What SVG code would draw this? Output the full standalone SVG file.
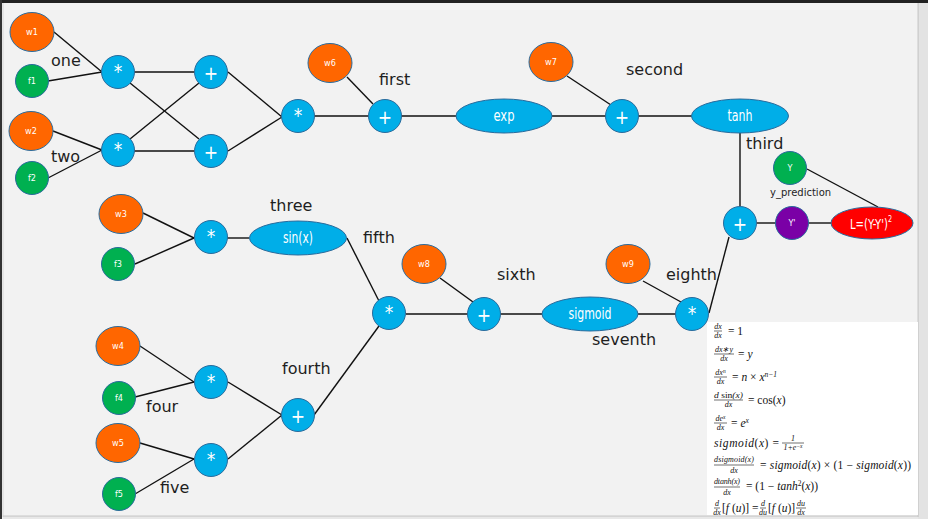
<svg xmlns="http://www.w3.org/2000/svg" width="928" height="519" viewBox="0 0 928 519">
<style>
.o{fill:#ff6600}.g{fill:#00b050}.b{fill:#00aee8}.p{fill:#7a00a6}.r{fill:#ff0000}
.n circle,.n ellipse{stroke:#2a6b9c;stroke-width:1}
.t{font-family:"Liberation Sans Narrow","DejaVu Sans Condensed","Liberation Sans",sans-serif;font-stretch:condensed;fill:#fff;text-anchor:middle;dominant-baseline:central}
.s{font-size:9px}.op{font-size:19px;font-family:"DejaVu Sans",sans-serif}.m{font-size:15px}
.lbl{font-family:"DejaVu Sans",sans-serif;font-size:16px;fill:#1e1e1e}
.sm{font-size:10px}
#edges line{stroke:#111;stroke-width:1.4}
.f{font-family:"Liberation Serif",serif;font-size:11.5px;fill:#111}
.fr{font-family:"Liberation Serif",serif;font-size:8px;font-style:italic;fill:#111;text-anchor:middle}
.i{font-style:italic}
.bar{stroke:#111;stroke-width:0.6}
</style>
<rect width="928" height="519" fill="#f2f2f2"/>
<rect x="0" y="0" width="928" height="3" fill="#222"/>
<rect x="0" y="0" width="2" height="519" fill="#333"/>
<rect x="2.5" y="3" width="1" height="514" fill="#d6d6d6"/>
<rect x="918" y="3" width="10" height="516" fill="#e3e3e3"/>
<rect x="917.5" y="3" width="1.2" height="514" fill="#c8c8c8"/>
<rect x="3" y="515.5" width="915" height="1.2" fill="#c8c8c8"/>
<rect x="3" y="517" width="915" height="2" fill="#e8e8e8"/>
<rect x="707" y="322" width="211" height="193" fill="#ffffff"/>

<g id="edges">
<line x1="54" y1="32" x2="102" y2="72"/>
<line x1="48" y1="81" x2="102" y2="72"/>
<line x1="53" y1="131" x2="102" y2="150"/>
<line x1="48" y1="178" x2="102" y2="150"/>
<line x1="134" y1="72" x2="194" y2="72"/>
<line x1="134" y1="151" x2="194" y2="151"/>
<line x1="130" y1="83" x2="199" y2="139"/>
<line x1="130" y1="139" x2="199" y2="83"/>
<line x1="228" y1="72" x2="282" y2="117"/>
<line x1="228" y1="151" x2="282" y2="117"/>
<line x1="314" y1="116" x2="368" y2="116"/>
<line x1="347" y1="77" x2="373" y2="104"/>
<line x1="401" y1="116" x2="456" y2="116"/>
<line x1="552" y1="116" x2="606" y2="116"/>
<line x1="567" y1="76" x2="611" y2="105"/>
<line x1="638" y1="116" x2="692" y2="116"/>
<line x1="740" y1="133" x2="740" y2="206"/>
<line x1="757" y1="223" x2="776" y2="223"/>
<line x1="808" y1="223" x2="831" y2="223"/>
<line x1="807" y1="169" x2="878" y2="207"/>
<line x1="709" y1="313" x2="729" y2="237"/>
<line x1="143" y1="213" x2="194" y2="238"/>
<line x1="135" y1="264" x2="194" y2="238"/>
<line x1="227" y1="238" x2="249" y2="238"/>
<line x1="347" y1="238" x2="379" y2="301"/>
<line x1="406" y1="314" x2="468" y2="314"/>
<line x1="440" y1="278" x2="473" y2="302"/>
<line x1="500" y1="314" x2="542" y2="314"/>
<line x1="638" y1="314" x2="676" y2="314"/>
<line x1="643" y1="281" x2="681" y2="302"/>
<line x1="140" y1="346" x2="194" y2="382"/>
<line x1="135" y1="397" x2="194" y2="382"/>
<line x1="140" y1="443" x2="194" y2="459"/>
<line x1="135" y1="494" x2="194" y2="459"/>
<line x1="228" y1="382" x2="282" y2="415"/>
<line x1="228" y1="459" x2="282" y2="415"/>
<line x1="314" y1="415" x2="379" y2="326"/>
</g>

<g id="w1" class="n"><ellipse class="o" cx="32" cy="32" rx="22" ry="19.5"/><text class="t s" x="32" y="32">w1</text></g>
<g id="f1" class="n"><circle class="g" cx="32" cy="81" r="16.5"/><text class="t s" x="32" y="81">f1</text></g>
<g id="w2" class="n"><ellipse class="o" cx="31" cy="131" rx="22" ry="19.5"/><text class="t s" x="31" y="131">w2</text></g>
<g id="f2" class="n"><circle class="g" cx="32" cy="178" r="16.5"/><text class="t s" x="32" y="178">f2</text></g>
<g id="mul1" class="n"><circle class="b" cx="118" cy="72" r="16.5"/><text class="t op" x="118" y="71">*</text></g>
<g id="mul2" class="n"><circle class="b" cx="118" cy="150" r="16.5"/><text class="t op" x="118" y="149">*</text></g>
<g id="add1" class="n"><circle class="b" cx="211" cy="72" r="16.5"/><text class="t op" x="211" y="73">+</text></g>
<g id="add2" class="n"><circle class="b" cx="211" cy="151" r="16.5"/><text class="t op" x="211" y="152">+</text></g>
<g id="mul3" class="n"><circle class="b" cx="298" cy="116" r="16.5"/><text class="t op" x="298" y="115">*</text></g>
<g id="w6" class="n"><ellipse class="o" cx="330" cy="63" rx="22" ry="19.5"/><text class="t s" x="330" y="63">w6</text></g>
<g id="add3" class="n"><circle class="b" cx="385" cy="116" r="16.5"/><text class="t op" x="385" y="117">+</text></g>
<g id="exp" class="n"><ellipse class="b" cx="504" cy="116" rx="48" ry="17"/><text class="t m" x="504" y="116" textLength="21" lengthAdjust="spacingAndGlyphs">exp</text></g>
<g id="w7" class="n"><ellipse class="o" cx="551" cy="62" rx="22" ry="19.5"/><text class="t s" x="551" y="62">w7</text></g>
<g id="add4" class="n"><circle class="b" cx="622" cy="116" r="16.5"/><text class="t op" x="622" y="117">+</text></g>
<g id="tanh" class="n"><ellipse class="b" cx="740" cy="116" rx="48.5" ry="17"/><text class="t m" x="740" y="116" textLength="25" lengthAdjust="spacingAndGlyphs">tanh</text></g>
<g id="Y" class="n"><circle class="g" cx="790" cy="168" r="16.5"/><text class="t s" x="790" y="168">Y</text></g>
<g id="add5" class="n"><circle class="b" cx="740" cy="223" r="16.5"/><text class="t op" x="740" y="224">+</text></g>
<g id="Yp" class="n"><circle class="p" cx="792" cy="223" r="16.5"/><text class="t s" x="792" y="223">Y'</text></g>
<g id="L" class="n"><ellipse class="r" cx="872" cy="223" rx="41" ry="16"/><text class="t" font-size="14" transform="translate(871,224) scale(0.8,1)" x="0" y="0">L=(Y-Y')<tspan font-size="9" dy="-5">2</tspan></text></g>
<g id="w3" class="n"><ellipse class="o" cx="121" cy="214" rx="22" ry="19.5"/><text class="t s" x="121" y="214">w3</text></g>
<g id="f3" class="n"><circle class="g" cx="118" cy="264" r="16.5"/><text class="t s" x="118" y="264">f3</text></g>
<g id="mul4" class="n"><circle class="b" cx="211" cy="237" r="16.5"/><text class="t op" x="211" y="236">*</text></g>
<g id="sin" class="n"><ellipse class="b" cx="298" cy="238" rx="48.5" ry="17"/><text class="t m" x="298" y="238" textLength="30" lengthAdjust="spacingAndGlyphs">sin(x)</text></g>
<g id="mul5" class="n"><circle class="b" cx="389" cy="313" r="16.5"/><text class="t op" x="389" y="312">*</text></g>
<g id="w8" class="n"><ellipse class="o" cx="424" cy="264" rx="22" ry="19.5"/><text class="t s" x="424" y="264">w8</text></g>
<g id="add6" class="n"><circle class="b" cx="484" cy="314" r="16.5"/><text class="t op" x="484" y="315">+</text></g>
<g id="sigmoid" class="n"><ellipse class="b" cx="590" cy="314" rx="48" ry="17"/><text class="t m" x="590" y="314" textLength="43" lengthAdjust="spacingAndGlyphs">sigmoid</text></g>
<g id="w9" class="n"><ellipse class="o" cx="628" cy="264" rx="22" ry="19.5"/><text class="t s" x="628" y="264">w9</text></g>
<g id="mul6" class="n"><circle class="b" cx="692" cy="314" r="16.5"/><text class="t op" x="692" y="313">*</text></g>
<g id="w4" class="n"><ellipse class="o" cx="118" cy="346" rx="22" ry="19.5"/><text class="t s" x="118" y="346">w4</text></g>
<g id="f4" class="n"><circle class="g" cx="119" cy="398" r="16.5"/><text class="t s" x="119" y="398">f4</text></g>
<g id="mul7" class="n"><circle class="b" cx="211" cy="382" r="16.5"/><text class="t op" x="211" y="381">*</text></g>
<g id="w5" class="n"><ellipse class="o" cx="118" cy="443" rx="22" ry="19.5"/><text class="t s" x="118" y="443">w5</text></g>
<g id="f5" class="n"><circle class="g" cx="119" cy="494" r="16.5"/><text class="t s" x="119" y="494">f5</text></g>
<g id="mul8" class="n"><circle class="b" cx="211" cy="460" r="16.5"/><text class="t op" x="211" y="459">*</text></g>
<g id="add7" class="n"><circle class="b" cx="298" cy="415" r="16.5"/><text class="t op" x="298" y="416">+</text></g>

<g id="labels">
<text class="lbl" x="51" y="66">one</text>
<text class="lbl" x="51" y="162">two</text>
<text class="lbl" x="379" y="85">first</text>
<text class="lbl" x="626" y="75">second</text>
<text class="lbl" x="746" y="149">third</text>
<text class="lbl sm" x="770" y="196">y_prediction</text>
<text class="lbl" x="270" y="211">three</text>
<text class="lbl" x="363" y="243">fifth</text>
<text class="lbl" x="497" y="280">sixth</text>
<text class="lbl" x="592" y="345">seventh</text>
<text class="lbl" x="666" y="280">eighth</text>
<text class="lbl" x="282" y="374">fourth</text>
<text class="lbl" x="146" y="412">four</text>
<text class="lbl" x="160" y="493">five</text>
</g>

<g id="formulas">
<text class="fr" x="718" y="329">dx</text><line class="bar" x1="714" y1="331" x2="722" y2="331"/><text class="fr" x="718" y="338">dx</text>
<text class="f" x="728" y="335">= 1</text>
<text class="fr" x="724" y="352">dx∗y</text><line class="bar" x1="714" y1="354" x2="734" y2="354"/><text class="fr" x="724" y="361">dx</text>
<text class="f" x="738" y="358">= <tspan class="i">y</tspan></text>
<text class="fr" x="720.5" y="375">dx<tspan font-size="5.5" dy="-2.5">n</tspan></text><line class="bar" x1="714" y1="377" x2="727" y2="377"/><text class="fr" x="720.5" y="384">dx</text>
<text class="f" x="732" y="381">= <tspan class="i">n</tspan> × <tspan class="i">x</tspan><tspan class="i" font-size="7.5" dy="-4.5">n−1</tspan></text>
<text class="fr" x="728.5" y="398" textLength="29" lengthAdjust="spacingAndGlyphs"><tspan>d</tspan> <tspan font-style="normal">sin</tspan>(x)</text><line class="bar" x1="714" y1="400" x2="743" y2="400"/><text class="fr" x="728.5" y="407">dx</text>
<text class="f" x="748" y="404">= cos(<tspan class="i">x</tspan>)</text>
<text class="fr" x="720.5" y="421">de<tspan font-size="5.5" dy="-2.5">x</tspan></text><line class="bar" x1="714" y1="423" x2="727" y2="423"/><text class="fr" x="720.5" y="430">dx</text>
<text class="f" x="731" y="427">= <tspan class="i">e</tspan><tspan class="i" font-size="7.5" dy="-4.5">x</tspan></text>
<text class="f" x="714" y="447" textLength="65" lengthAdjust="spacing"><tspan class="i">sigmoid</tspan>(<tspan class="i">x</tspan>) =</text>
<text class="fr" x="793" y="441" font-style="normal">1</text><line class="bar" x1="782" y1="443" x2="804" y2="443"/><text class="fr" x="793" y="450" font-style="normal">1+<tspan font-style="italic">e</tspan><tspan font-size="5.5" dy="-2.5" font-style="italic">−x</tspan></text>
<text class="fr" x="734" y="462" textLength="40" lengthAdjust="spacing">dsigmoid(x)</text><line class="bar" x1="714" y1="465" x2="754" y2="465"/><text class="fr" x="734" y="473">dx</text>
<text class="f" x="760" y="469" textLength="151" lengthAdjust="spacing">= <tspan class="i">sigmoid</tspan>(<tspan class="i">x</tspan>) × (1 − <tspan class="i">sigmoid</tspan>(<tspan class="i">x</tspan>))</text>
<text class="fr" x="727" y="484" textLength="26" lengthAdjust="spacing">dtanh(x)</text><line class="bar" x1="714" y1="487" x2="740" y2="487"/><text class="fr" x="727" y="495">dx</text>
<text class="f" x="746" y="490">= (1 − <tspan class="i">tanh</tspan><tspan font-size="7.5" dy="-4.5">2</tspan><tspan dy="4.5">(</tspan><tspan class="i">x</tspan>))</text>
<text class="fr" x="717" y="506">d</text><line class="bar" x1="714" y1="508" x2="720" y2="508"/><text class="fr" x="717" y="515">dx</text>
<text class="f" x="722" y="512">[<tspan class="i">f</tspan> (<tspan class="i">u</tspan>)] =</text>
<text class="fr" x="763" y="506">d</text><line class="bar" x1="760" y1="508" x2="766" y2="508"/><text class="fr" x="763" y="515">du</text>
<text class="f" x="768" y="512">[<tspan class="i">f</tspan> (<tspan class="i">u</tspan>)]</text>
<text class="fr" x="801" y="506">du</text><line class="bar" x1="796" y1="508" x2="806" y2="508"/><text class="fr" x="801" y="515">dx</text>
</g>
</svg>
